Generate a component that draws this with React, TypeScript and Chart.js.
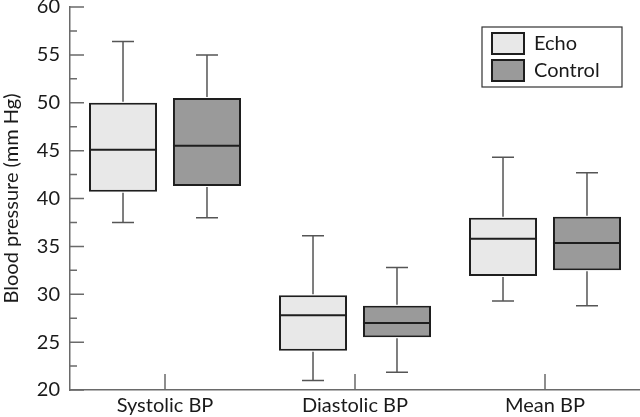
import React, { useEffect, useRef } from "react";
import { Chart, registerables } from "chart.js";

Chart.register(...registerables);

const categories = ["Systolic BP", "Diastolic BP", "Mean BP"];
const seriesNames = ["Echo", "Control"];

const echoMin = [37.5, 21.0, 29.3];
const echoQ1 = [40.7, 24.1, 31.9];
const echoMedian = [45.1, 27.8, 35.8];
const echoQ3 = [50.0, 29.9, 38.0];
const echoMax = [56.4, 36.1, 44.3];

const controlMin = [38.0, 21.85, 28.8];
const controlQ1 = [41.3, 25.5, 32.5];
const controlMedian = [45.5, 27.0, 35.35];
const controlQ3 = [50.5, 28.8, 38.1];
const controlMax = [55.0, 32.8, 42.7];

const yMin = 20;
const yMax = 60;
const yMajorStep = 5;
const yMinorStep = 2.5;

const FONT = "Lato, 'DejaVu Sans', sans-serif";
const fills = ["#e8e8e8", "#9a9a9a"];
const edge = "#1e1e1e";
const axisColor = "#6a6a6a";
const whiskerColor = "#555555";

const stats = [
  { min: echoMin, q1: echoQ1, med: echoMedian, q3: echoQ3, max: echoMax },
  { min: controlMin, q1: controlQ1, med: controlMedian, q3: controlQ3, max: controlMax },
];

const boxPlugin = {
  id: "boxExtras",
  afterDatasetsDraw(chart: any) {
    const ctx = chart.ctx;
    const y = chart.scales.y;
    ctx.save();
    stats.forEach((s, d) => {
      const meta = chart.getDatasetMeta(d);
      meta.data.forEach((el: any, i: number) => {
        const cx = el.x;
        const half = el.width / 2;
        const capHalf = 11;
        const pMax = y.getPixelForValue(s.max[i]);
        const pQ3 = y.getPixelForValue(s.q3[i]);
        const pQ1 = y.getPixelForValue(s.q1[i]);
        const pMin = y.getPixelForValue(s.min[i]);
        const pMed = y.getPixelForValue(s.med[i]);
        ctx.strokeStyle = whiskerColor;
        ctx.lineWidth = 1.5;
        ctx.beginPath();
        ctx.moveTo(cx, pQ3 - 1);
        ctx.lineTo(cx, pMax);
        ctx.moveTo(cx - capHalf, pMax);
        ctx.lineTo(cx + capHalf, pMax);
        ctx.moveTo(cx, pQ1 + 1);
        ctx.lineTo(cx, pMin);
        ctx.moveTo(cx - capHalf, pMin);
        ctx.lineTo(cx + capHalf, pMin);
        ctx.stroke();
        ctx.strokeStyle = edge;
        ctx.lineWidth = 2;
        ctx.beginPath();
        ctx.moveTo(cx - half, pMed);
        ctx.lineTo(cx + half, pMed);
        ctx.stroke();
      });
    });
    ctx.restore();
  },
  afterDraw(chart: any) {
    const ctx = chart.ctx;
    const y = chart.scales.y;
    const x = chart.scales.x;
    const area = chart.chartArea;
    ctx.save();
    ctx.strokeStyle = axisColor;
    ctx.lineWidth = 1.5;
    ctx.beginPath();
    for (let v = yMin; v <= yMax + 1e-6; v += yMinorStep) {
      const py = y.getPixelForValue(v);
      const major = Math.abs(v / yMajorStep - Math.round(v / yMajorStep)) < 1e-6;
      ctx.moveTo(area.left, py);
      ctx.lineTo(area.left + (major ? 14 : 7), py);
    }
    categories.forEach((_, i) => {
      const px = x.getPixelForValue(i);
      ctx.moveTo(px, area.bottom);
      ctx.lineTo(px, area.bottom - 16);
    });
    ctx.stroke();

    // legend
    const lw = 140;
    const lh = 60;
    const lx = area.right - 18 - lw;
    const ly = area.top + 20;
    ctx.strokeStyle = "#333333";
    ctx.lineWidth = 1.2;
    ctx.strokeRect(lx, ly, lw, lh);
    seriesNames.forEach((name, k) => {
      const sy = ly + 6 + k * 27;
      ctx.fillStyle = fills[k];
      ctx.fillRect(lx + 10, sy, 32, 21);
      ctx.strokeStyle = edge;
      ctx.lineWidth = 2;
      ctx.strokeRect(lx + 10, sy, 32, 21);
      ctx.fillStyle = "#1a1a1a";
      ctx.font = `20px ${FONT}`;
      ctx.textBaseline = "middle";
      ctx.textAlign = "left";
      ctx.fillText(name, lx + 52, sy + 11);
    });
    ctx.restore();
  },
};

export default function App() {
  const ref = useRef<HTMLCanvasElement | null>(null);
  useEffect(() => {
    document.body.style.margin = "0";
    const canvas = ref.current;
    if (!canvas) return;
    const chart = new Chart(canvas, {
      type: "bar",
      data: {
        labels: categories,
        datasets: stats.map((s, d) => ({
          label: seriesNames[d],
          data: categories.map((_, i) => [s.q1[i], s.q3[i]]),
          backgroundColor: fills[d],
          borderColor: edge,
          borderWidth: 2,
          borderSkipped: false,
          categoryPercentage: 0.884,
          barPercentage: 0.81,
        })) as any,
      },
      options: {
        animation: false,
        responsive: false,
        maintainAspectRatio: false,
        layout: { padding: { top: 7, right: 0, left: 0, bottom: 0 } },
        plugins: {
          legend: { display: false },
          tooltip: { enabled: false },
          title: { display: false },
        },
        scales: {
          x: {
            type: "category",
            grid: { display: false, drawTicks: false },
            border: { display: true, color: axisColor, width: 1.5 },
            ticks: {
              color: "#1a1a1a",
              font: { family: FONT, size: 20 },
              padding: 4,
              maxRotation: 0,
            },
            afterFit: (s: any) => {
              s.height = 27;
              s.paddingLeft = 0;
              s.paddingRight = 0;
            },
          },
          y: {
            type: "linear",
            min: yMin,
            max: yMax,
            grid: { display: false, drawTicks: false },
            border: { display: true, color: axisColor, width: 1.5 },
            ticks: {
              stepSize: yMajorStep,
              color: "#1a1a1a",
              font: { family: FONT, size: 20 },
              padding: 10,
            },
            title: {
              display: true,
              text: "Blood pressure (mm Hg)",
              color: "#1a1a1a",
              font: { family: FONT, size: 20 },
              padding: { top: 0, bottom: 0 },
            },
            afterFit: (s: any) => {
              s.width = 70;
              s.paddingTop = 0;
              s.paddingBottom = 0;
            },
          },
        },
      },
      plugins: [boxPlugin],
    });
    return () => chart.destroy();
  }, []);
  return (
    <div style={{ width: 640, height: 417, background: "#ffffff" }}>
      <canvas ref={ref} width={640} height={417} />
    </div>
  );
}
